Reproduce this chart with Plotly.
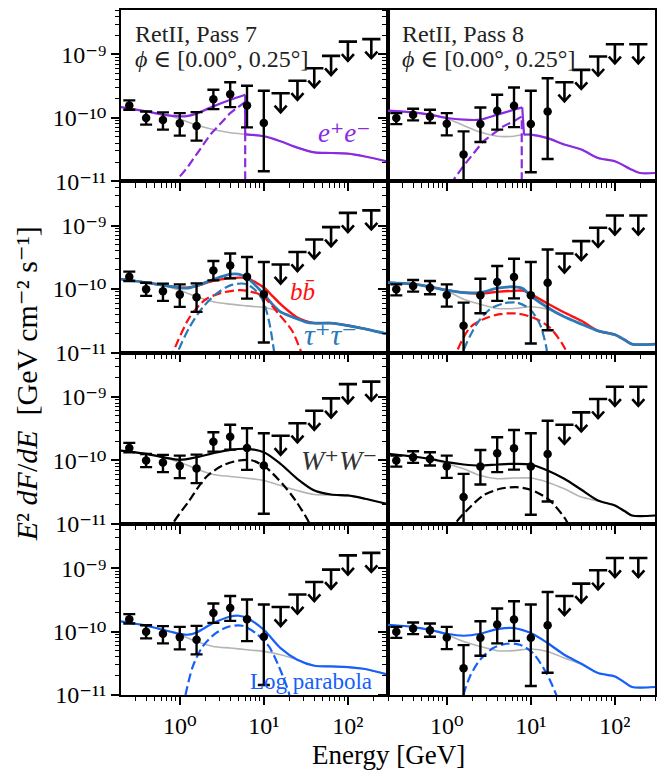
import numpy as np
import plotly.graph_objects as go
from plotly.subplots import make_subplots

# ---------------- data points (Pass 7) ----------------
E_p7 = [0.251, 0.398, 0.631, 1.0, 1.585, 2.512, 3.981, 6.31, 10.0]
F_p7 = [1.567e-10, 9.89e-11, 9.2e-11, 8.17e-11, 7.41e-11, 1.968e-10, 2.36e-10, 1.567e-10, 8.26e-11]
F_p7_hi = [1.879e-10, 1.259e-10, 1.216e-10, 1.186e-10, 1.230e-10, 2.767e-10, 3.63e-10, 3.20e-10, 2.667e-10]
F_p7_lo = [1.34e-10, 7.80e-11, 6.50e-11, 5.24e-11, 4.37e-11, 1.371e-10, 1.472e-10, 7.06e-11, 1.435e-11]
E_p7_ul = [15.85, 25.12, 39.81, 63.1, 100.0, 190.0]
F_p7_ul = [2.44e-10, 3.83e-10, 6.04e-10, 9.46e-10, 1.585e-9, 1.74e-9]

# ---------------- data points (Pass 8) ----------------
E_p8 = [0.251, 0.398, 0.631, 1.0, 1.585, 2.512, 3.981, 6.31, 10.0, 15.85]
F_p8 = [9.89e-11, 1.119e-10, 1.052e-10, 8.07e-11, 2.63e-11, 7.96e-11, 1.294e-10, 1.549e-10, 7.96e-11, 1.259e-10]
F_p8_hi = [1.186e-10, 1.390e-10, 1.340e-10, 1.186e-10, 6.11e-11, 1.455e-10, 2.307e-10, 3.006e-10, 2.667e-10, 4.21e-10]
F_p8_lo = [7.94e-11, 9.12e-11, 8.26e-11, 5.28e-11, 5.0e-12, 4.15e-11, 6.50e-11, 7.14e-11, 1.387e-11, 2.24e-11]
E_p8_ul = [25.12, 39.81, 63.1, 100.0, 190.0]
F_p8_ul = [3.63e-10, 5.70e-10, 9.23e-10, 1.44e-9, 1.44e-9]

# ---------------- tick labels ----------------
x_tickvals = [1, 10, 100]
x_ticktext = ["10⁰", "10¹", "10²"]
y_tickvals = [1e-11, 1e-10, 1e-9]
y_ticktext = ["10⁻¹¹", "10⁻¹⁰", "10⁻⁹"]

# ---------------- model curves (log10 of E^2 dF/dE) ----------------
# Row 1, Pass 7: e+e-
ee7_totA_E = [0.2, 0.4, 0.63, 1.0, 1.26, 1.6, 2.5, 4.0, 6.0]
ee7_totA_L = [-9.83, -9.90, -9.95, -9.978, -9.97, -9.93, -9.82, -9.715, -9.636]
ee7_totB_E = [6.0, 10, 15.8, 25, 40, 63, 100, 160, 300]
ee7_totB_L = [-10.262, -10.29, -10.37, -10.47, -10.545, -10.555, -10.565, -10.61, -10.69]
ee7_bkg_E = [0.2, 0.4, 0.63, 0.8, 1.0, 1.585, 2.5, 4.0, 6.3, 10, 15.8, 25, 40, 63, 100, 160, 300]
ee7_bkg_L = [-9.83, -9.90, -9.95, -9.975, -10.02, -10.115, -10.185, -10.235, -10.262, -10.29, -10.37,
             -10.47, -10.545, -10.555, -10.565, -10.61, -10.69]
ee7_dm_E = [0.8, 1.22, 2.31, 3.98, 6.0, 6.0]
ee7_dm_L = [-11.08, -10.79, -10.265, -9.926, -9.75, -11.5]

# Row 1, Pass 8: e+e-
ee8_totA_E = [0.2, 0.4, 0.63, 1.0, 1.585, 2.5, 4.0, 6.3, 7.9]
ee8_totA_L = [-9.888, -9.915, -9.95, -10.003, -10.03, -10.03, -9.95, -9.873, -9.836]
ee8_totB_E = [8.3, 10, 15.8, 25, 40, 63, 100, 160, 200, 300]
ee8_totB_L = [-10.265, -10.265, -10.32, -10.42, -10.50, -10.633, -10.685, -10.82, -10.87, -10.87]
ee8_bkg_E = [0.2, 0.4, 0.63, 1.0, 1.585, 2.5, 4.0, 6.3, 8.3, 10, 15.8, 25, 40, 63, 100, 160, 200, 300]
ee8_bkg_L = [-9.888, -9.915, -9.955, -10.01, -10.12, -10.225, -10.29, -10.29, -10.265, -10.265, -10.32,
             -10.42, -10.50, -10.633, -10.685, -10.82, -10.87, -10.87]
ee8_dm_E = [1.1, 1.6, 2.72, 4.7, 6.2, 7.8, 7.8]
ee8_dm_L = [-11.05, -10.75, -10.37, -10.135, -10.057, -9.98, -11.5]

# Row 2, Pass 7: b bbar and tau tau
r2p7_E = [0.2, 0.4, 0.63, 1.0, 1.26, 1.585, 2.5, 4.0, 5.0, 6.3, 10, 12.6, 15.8, 20, 25, 31.6, 40, 63, 100, 160, 300]
bb7_tot_L = [-9.844, -9.898, -9.94, -9.976, -9.976, -9.95, -9.871, -9.828, -9.82, -9.828, -9.976, -10.107,
             -10.238, -10.354, -10.449, -10.505, -10.537, -10.537, -10.575, -10.627, -10.71]
tt7_tot_L = [-9.844, -9.898, -9.94, -9.98, -9.985, -9.95, -9.85, -9.765, -9.765, -9.82, -10.08, -10.238,
             -10.36, -10.42, -10.47, -10.52, -10.537, -10.537, -10.575, -10.627, -10.71]
r2p7_bkg_E = [0.2, 0.4, 0.63, 1.0, 1.585, 2.5, 4.0, 6.3, 10, 13.5, 15.8, 20, 25, 31.6, 40, 63, 100, 160, 300]
r2p7_bkg_L = [-9.844, -9.898, -9.945, -10.02, -10.12, -10.2, -10.238, -10.265, -10.291, -10.33, -10.36,
              -10.42, -10.47, -10.52, -10.537, -10.537, -10.575, -10.627, -10.71]
bb7_dm_E = [0.76, 0.826, 1.303, 2.05, 3.23, 5.09, 6.46, 9.59, 15.1, 21.7, 27.4, 30]
bb7_dm_L = [-11.1, -11.0, -10.449, -10.16, -10.055, -10.017, -10.03, -10.107, -10.395, -10.658, -10.97, -11.1]
tt7_dm_E = [0.9, 0.946, 1.30, 1.87, 2.69, 3.87, 5.57, 7.31, 9.59, 11.5, 13.2, 13.8]
tt7_dm_L = [-11.15, -11.0, -10.606, -10.291, -10.08, -9.95, -9.913, -9.976, -10.16, -10.50, -10.97, -11.15]

# Row 2, Pass 8
r2p8_E = [0.2, 0.4, 0.63, 1.0, 1.585, 2.5, 4.0, 6.3, 8.0, 10, 15.8, 25, 40, 63, 100, 130, 160, 300]
bb8_tot_L = [-9.898, -9.923, -9.965, -10.017, -10.055, -10.07, -10.044, -10.028, -10.025, -10.08, -10.228,
             -10.37, -10.50, -10.658, -10.72, -10.8, -10.868, -10.868]
tt8_tot_L = [-9.898, -9.923, -9.965, -10.017, -10.055, -10.055, -9.986, -9.965, -9.99, -10.107, -10.291,
             -10.438, -10.553, -10.658, -10.72, -10.8, -10.868, -10.868]
r2p8_bkg_E = [0.2, 0.4, 0.63, 1.0, 1.585, 2.5, 4.0, 6.3, 10, 15.8, 20, 25, 40, 63, 100, 130, 160, 300]
r2p8_bkg_L = [-9.898, -9.923, -9.965, -10.03, -10.16, -10.238, -10.307, -10.307, -10.28, -10.317, -10.37,
              -10.438, -10.553, -10.658, -10.72, -10.8, -10.868, -10.868]
bb8_dm_E = [1.25, 1.31, 1.89, 2.72, 4.30, 6.76, 10.6, 16.8, 25.1, 28.2]
bb8_dm_L = [-11.15, -11.0, -10.606, -10.474, -10.395, -10.386, -10.449, -10.606, -10.92, -11.1]
tt8_dm_E = [1.48, 1.58, 2.27, 3.27, 4.70, 6.76, 9.73, 12.8, 15.3, 15.85]
tt8_dm_L = [-11.15, -10.97, -10.553, -10.317, -10.228, -10.213, -10.317, -10.553, -10.92, -11.1]

# Row 3: W+W-
ww7_E = [0.2, 0.4, 0.63, 1.0, 1.585, 2.5, 4.0, 6.3, 10, 15.8, 25, 40, 63, 100, 160, 300]
ww7_tot_L = [-9.846, -9.898, -9.951, -9.992, -9.951, -9.888, -9.835, -9.819, -9.872, -10.055, -10.291,
             -10.476, -10.539, -10.554, -10.606, -10.69]
ww7_bkg_L = [-9.846, -9.898, -9.955, -10.03, -10.134, -10.224, -10.255, -10.282, -10.318, -10.397, -10.476,
             -10.539, -10.545, -10.56, -10.606, -10.69]
ww7_dm_E = [0.75, 0.826, 1.30, 2.05, 3.23, 5.09, 7.31, 10.5, 16.6, 23.8, 34.3, 37]
ww7_dm_L = [-11.15, -11.0, -10.633, -10.266, -10.082, -10.003, -10.003, -10.108, -10.37, -10.633, -10.975, -11.1]

ww8_E = [0.2, 0.4, 0.63, 1.0, 1.585, 2.5, 4.0, 6.3, 10, 15.8, 25, 40, 63, 100, 130, 160, 300]
ww8_tot_L = [-9.898, -9.94, -9.977, -10.03, -10.066, -10.082, -10.066, -10.055, -10.066, -10.16, -10.291,
             -10.465, -10.633, -10.712, -10.8, -10.87, -10.87]
ww8_bkg_L = [-9.898, -9.94, -9.98, -10.055, -10.134, -10.24, -10.291, -10.28, -10.28, -10.345, -10.449,
             -10.58, -10.64, -10.712, -10.8, -10.87, -10.87]
ww8_dm_E = [1.15, 1.26, 1.89, 2.72, 4.30, 6.76, 10.6, 16.8, 26.4, 28.2]
ww8_dm_L = [-11.15, -11.0, -10.739, -10.554, -10.449, -10.423, -10.476, -10.633, -10.948, -11.05]

# Row 4: log parabola
lp7_E = [0.2, 0.4, 0.63, 1.0, 1.26, 1.585, 2.5, 4.0, 5.0, 6.3, 10, 15.8, 25, 40, 63, 100, 160, 300]
lp7_tot_L = [-9.841, -9.909, -9.972, -10.035, -10.05, -10.014, -9.866, -9.762, -9.751, -9.787, -9.972,
             -10.26, -10.444, -10.539, -10.55, -10.56, -10.59, -10.68]
lp7_bkg_E = [0.2, 0.4, 0.63, 1.0, 1.585, 2.5, 4.0, 6.3, 10, 15.8, 25, 40, 63, 100, 160, 300]
lp7_bkg_L = [-9.841, -9.909, -9.975, -10.05, -10.156, -10.235, -10.26, -10.287, -10.313, -10.365, -10.444,
             -10.539, -10.55, -10.56, -10.59, -10.68]
lp7_dm_E = [1.10, 1.17, 1.43, 1.87, 2.69, 3.87, 5.57, 8.02, 11.5, 15.1, 19.9, 20.4]
lp7_dm_L = [-11.2, -11.0, -10.55, -10.235, -10.024, -9.92, -9.909, -10.024, -10.235, -10.55, -10.97, -11.05]

lp8_E = [0.2, 0.4, 0.63, 1.0, 1.585, 2.5, 4.0, 6.3, 10, 15.8, 25, 40, 63, 100, 130, 160, 300]
lp8_tot_L = [-9.893, -9.929, -9.972, -10.035, -10.066, -10.035, -9.961, -9.945, -10.024, -10.181, -10.365,
             -10.507, -10.654, -10.707, -10.8, -10.874, -10.874]
lp8_bkg_L = [-9.893, -9.929, -9.975, -10.05, -10.156, -10.235, -10.302, -10.3, -10.276, -10.313, -10.417,
             -10.515, -10.654, -10.707, -10.8, -10.874, -10.874]
lp8_dm_E = [1.5, 1.58, 1.89, 2.49, 3.57, 5.14, 7.41, 10.6, 15.3, 20.1, 21]
lp8_dm_L = [-11.2, -11.0, -10.707, -10.444, -10.26, -10.192, -10.208, -10.339, -10.654, -11.0, -11.1]

# ---------------- styling ----------------
SERIF = "Liberation Serif, DejaVu Serif, Times New Roman, serif"
C_EE = "#8a2be2"
C_BB = "#ff1010"
C_TT = "#2a7ab8"
C_WW = "#000000"
C_LP = "#1560fb"
C_BKG = "#b4b4b4"

fig = make_subplots(rows=4, cols=2, horizontal_spacing=0, vertical_spacing=0)


def P(v):
    return [10 ** x for x in v]


def line(r, c, E, L, color, width=2.2, dash=None, shape="spline"):
    fig.add_trace(go.Scatter(x=E, y=P(L), mode="lines",
                             line=dict(color=color, width=width, dash=dash, shape=shape,
                                       smoothing=0.8 if shape == "spline" else None),
                             hoverinfo="skip", showlegend=False), row=r, col=c)


DASH = "9px,4px"

# row 1
line(1, 1, ee7_bkg_E, ee7_bkg_L, C_BKG, 1.6)
line(1, 1, ee7_totA_E, ee7_totA_L, C_EE)
line(1, 1, [ee7_totA_E[-1], ee7_totB_E[0]], [ee7_totA_L[-1], ee7_totB_L[0]], C_EE, shape="linear")
line(1, 1, ee7_totB_E, ee7_totB_L, C_EE)
line(1, 1, ee7_dm_E, ee7_dm_L, C_EE, dash=DASH, shape="linear")

line(1, 2, ee8_bkg_E, ee8_bkg_L, C_BKG, 1.6)
line(1, 2, ee8_totA_E, ee8_totA_L, C_EE)
line(1, 2, [ee8_totA_E[-1], ee8_totB_E[0]], [ee8_totA_L[-1], ee8_totB_L[0]], C_EE, shape="linear")
line(1, 2, ee8_totB_E, ee8_totB_L, C_EE)
line(1, 2, ee8_dm_E, ee8_dm_L, C_EE, dash=DASH, shape="linear")

# row 2
line(2, 1, r2p7_bkg_E, r2p7_bkg_L, C_BKG, 1.6)
line(2, 1, r2p7_E, bb7_tot_L, C_BB, 2.4)
line(2, 1, r2p7_E, tt7_tot_L, C_TT, 2.8)
line(2, 1, bb7_dm_E, bb7_dm_L, C_BB, dash=DASH)
line(2, 1, tt7_dm_E, tt7_dm_L, C_TT, dash=DASH)

line(2, 2, r2p8_bkg_E, r2p8_bkg_L, C_BKG, 1.6)
line(2, 2, r2p8_E, bb8_tot_L, C_BB, 2.4)
line(2, 2, r2p8_E, tt8_tot_L, C_TT, 2.8)
line(2, 2, bb8_dm_E, bb8_dm_L, C_BB, dash=DASH)
line(2, 2, tt8_dm_E, tt8_dm_L, C_TT, dash=DASH)

# row 3
line(3, 1, ww7_E, ww7_bkg_L, C_BKG, 1.6)
line(3, 1, ww7_E, ww7_tot_L, C_WW)
line(3, 1, ww7_dm_E, ww7_dm_L, C_WW, dash=DASH)

line(3, 2, ww8_E, ww8_bkg_L, C_BKG, 1.6)
line(3, 2, ww8_E, ww8_tot_L, C_WW)
line(3, 2, ww8_dm_E, ww8_dm_L, C_WW, dash=DASH)

# row 4
line(4, 1, lp7_bkg_E, lp7_bkg_L, C_BKG, 1.6)
line(4, 1, lp7_E, lp7_tot_L, C_LP)
line(4, 1, lp7_dm_E, lp7_dm_L, C_LP, dash=DASH)

line(4, 2, lp8_E, lp8_bkg_L, C_BKG, 1.6)
line(4, 2, lp8_E, lp8_tot_L, C_LP)
line(4, 2, lp8_dm_E, lp8_dm_L, C_LP, dash=DASH)

# upper-limit arrow geometry (arrow length as a flux fraction, chevron half-size in decades)
UL_FRAC = 0.5
HEAD_DX = 0.072   # decades in energy
HEAD_DY = 0.105   # decades in flux

# data points + upper limits in every panel
for r in range(1, 5):
    for c, (E, F, Fh, Fl, Eu, Fu) in enumerate([
            (E_p7, F_p7, F_p7_hi, F_p7_lo, E_p7_ul, F_p7_ul),
            (E_p8, F_p8, F_p8_hi, F_p8_lo, E_p8_ul, F_p8_ul)], start=1):
        F = np.array(F); Fh = np.array(Fh); Fl = np.array(Fl)
        fig.add_trace(go.Scatter(
            x=E, y=F, mode="markers",
            marker=dict(color="black", size=8.5),
            error_y=dict(type="data", symmetric=False, array=Fh - F, arrayminus=F - Fl,
                         thickness=2.4, width=6, color="black"),
            hoverinfo="skip", showlegend=False), row=r, col=c)
        ax, ay = [], []
        for e, u in zip(Eu, Fu):
            tip = u * UL_FRAC
            ax += [e, e, None, e * 10 ** -HEAD_DX, e, e * 10 ** HEAD_DX, None]
            ay += [u, tip, None, tip * 10 ** HEAD_DY, tip, tip * 10 ** HEAD_DY, None]
        fig.add_trace(go.Scatter(x=ax, y=ay, mode="lines",
                                 line=dict(color="black", width=2.6),
                                 hoverinfo="skip", showlegend=False), row=r, col=c)
        fig.add_trace(go.Scatter(
            x=Eu, y=Fu, mode="markers",
            marker=dict(symbol="line-ew", size=13, color="black",
                        line=dict(width=2.6, color="black")),
            hoverinfo="skip", showlegend=False), row=r, col=c)

# axes
minor_x = [0.3, 0.4, 0.5, 0.6, 0.7, 0.8, 0.9, 2, 3, 4, 5, 6, 7, 8, 9,
           20, 30, 40, 50, 60, 70, 80, 90, 200, 300]
minor_y = [k * 1e-11 for k in range(2, 10)] + [k * 1e-10 for k in range(2, 10)] + \
          [k * 1e-9 for k in range(2, 6)]
TICKFONT = dict(family=SERIF, size=24, color="black")
fig.update_xaxes(type="log", range=[np.log10(0.2), np.log10(300)], showline=True, mirror=True,
                 linecolor="black", linewidth=1.8, ticks="outside", ticklen=8, tickwidth=1.5,
                 tickcolor="black", tickmode="array", tickvals=x_tickvals, ticktext=x_ticktext,
                 minor=dict(tickmode="array", tickvals=minor_x, ticks="outside", ticklen=4.5,
                            tickwidth=1.1, tickcolor="black", showgrid=False),
                 showgrid=False, zeroline=False, tickfont=TICKFONT)
fig.update_yaxes(type="log", range=[-11, np.log10(5e-9)], showline=True, mirror=True,
                 linecolor="black", linewidth=1.8, ticks="outside", ticklen=8, tickwidth=1.5,
                 tickcolor="black", tickmode="array", tickvals=y_tickvals, ticktext=y_ticktext,
                 minor=dict(tickmode="array", tickvals=minor_y, ticks="outside", ticklen=4.5,
                            tickwidth=1.1, tickcolor="black", showgrid=False),
                 showgrid=False, zeroline=False, tickfont=TICKFONT)
for r in range(1, 4):
    for c in (1, 2):
        fig.update_xaxes(showticklabels=False, row=r, col=c)
for r in range(1, 5):
    fig.update_yaxes(showticklabels=False, row=r, col=2)

annotations = []
# panel titles
for name, xr, yr in [("RetII, Pass 7", "x domain", "y domain"),
                     ("RetII, Pass 8", "x2 domain", "y2 domain")]:
    annotations.append(dict(x=0.045, y=0.95, xref=xr, yref=yr, text=name, showarrow=False,
                            xanchor="left", yanchor="top",
                            font=dict(family=SERIF, size=24, color="#222")))
    annotations.append(dict(x=0.045, y=0.80, xref=xr, yref=yr,
                            text="<i>ϕ</i> ∈ [0.00°, 0.25°]", showarrow=False,
                            xanchor="left", yanchor="top",
                            font=dict(family=SERIF, size=24, color="#222")))

# channel labels (data coordinates, log10 units)
annotations += [
    dict(x=1.949, y=-10.245, xref="x", yref="y", showarrow=False,
         text="<i>e⁺e⁻</i>", font=dict(family=SERIF, size=27, color=C_EE)),
    dict(x=1.464, y=-10.044, xref="x3", yref="y3", showarrow=False,
         text="<i>bb̄</i>", font=dict(family=SERIF, size=25, color=C_BB)),
    dict(x=1.795, y=-10.72, xref="x3", yref="y3", showarrow=False,
         text="<i>τ⁺τ⁻</i>", font=dict(family=SERIF, size=30, color=C_TT)),
    dict(x=1.89, y=-10.003, xref="x5", yref="y5", showarrow=False,
         text="<i>W⁺W⁻</i>", font=dict(family=SERIF, size=28, color="#333")),
    dict(x=1.559, y=-10.79, xref="x7", yref="y7", showarrow=False,
         text="Log parabola", font=dict(family=SERIF, size=23, color=C_LP)),
]

# axis titles
annotations.append(dict(x=0.5, y=-0.087, xref="paper", yref="paper", showarrow=False,
                        text="Energy [GeV]", xanchor="center", yanchor="middle",
                        font=dict(family=SERIF, size=27, color="black")))
annotations.append(dict(x=-0.178, y=0.455, xref="paper", yref="paper", showarrow=False,
                        text="<i>E</i>² <i>dF</i>/<i>dE</i>  [GeV cm⁻² s⁻¹]",
                        textangle=-90, xanchor="center", yanchor="middle",
                        font=dict(family=SERIF, size=30, color="black")))

fig.update_layout(width=667, height=770, margin=dict(l=121, r=12, t=8, b=75),
                  plot_bgcolor="white", paper_bgcolor="white", showlegend=False,
                  annotations=annotations)

fig.write_html("out.html")
